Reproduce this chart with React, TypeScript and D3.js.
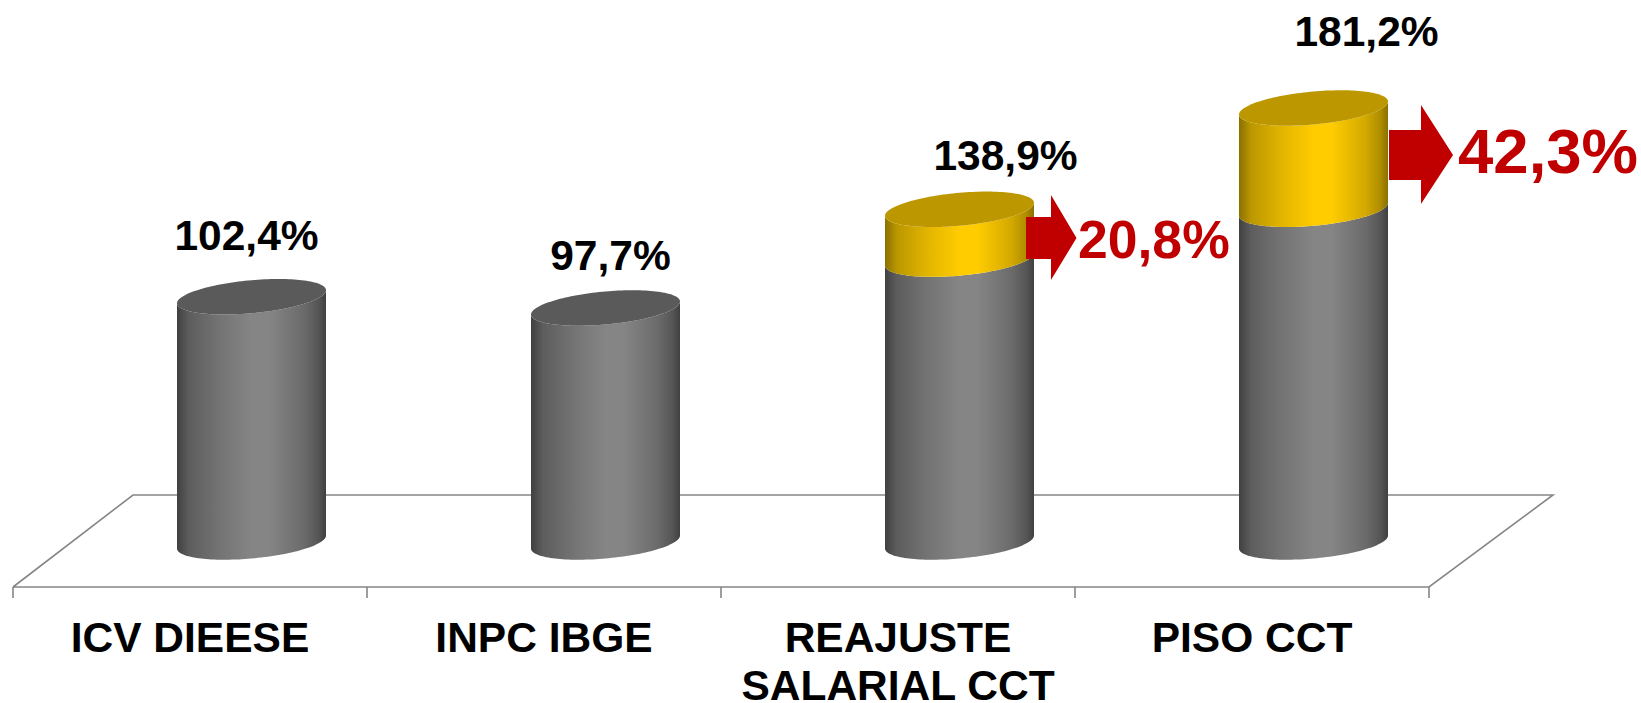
import React from "react";
import * as d3 from "d3";

const categories = ["ICV DIEESE", "INPC IBGE", "REAJUSTE SALARIAL CCT", "PISO CCT"];
const categoryLines = [["ICV DIEESE"], ["INPC IBGE"], ["REAJUSTE", "SALARIAL CCT"], ["PISO CCT"]];
const baseValues = [102.4, 97.7, 118.1, 138.9];
const gainValues = [0, 0, 20.8, 42.3];
const totalLabels = ["102,4%", "97,7%", "138,9%", "181,2%"];
const gainLabels = ["", "", "20,8%", "42,3%"];

const W = 1641, H = 703;
const FONT = "'Liberation Sans', Arial, sans-serif";
const floorLeft = 13, floorRight = 1429, floorFront = 587, floorBack = 495, depth = 120;
const rx = 74.5, ry = 16.5, skew = 6.5;
const x = d3.scaleBand<string>().domain(categories).range([floorLeft, floorRight]);
const y = d3.scaleLinear().domain([0, 181.2]).range([542, 108]);
const arcAngles = d3.range(0, 73).map((i) => (i / 72) * Math.PI);
const fullAngles = d3.range(0, 145).map((i) => (i / 144) * 2 * Math.PI);
const line = d3.line<[number, number]>();
const pt = (cx: number, cy: number, t: number): [number, number] => [
  cx + rx * Math.cos(t),
  cy + ry * Math.sin(t) - skew * Math.cos(t),
];
const side = (cx: number, y0: number, y1: number) => {
  const top = arcAngles.map((t) => pt(cx, y1, Math.PI - t));
  const bot = arcAngles.map((t) => pt(cx, y0, t));
  return line([...top, ...bot]) + "Z";
};
const face = (cx: number, cy: number) => line(fullAngles.map((t) => pt(cx, cy, t))) + "Z";

const labelDx = [-5, 5, 46, 53];
const labelDy = [-47, -37.5, -39, -62.5];
const arrows: Record<number, { x0: number; xb: number; xt: number; s0: number; s1: number; h0: number; h1: number; tx: number; ty: number; fs: number }> = {
  2: { x0: 1026, xb: 1051, xt: 1076.5, s0: 217, s1: 259, h0: 195, h1: 280, tx: 1078, ty: 258, fs: 53.5 },
  3: { x0: 1389, xb: 1421, xt: 1453, s0: 130, s1: 180, h0: 105, h1: 204, tx: 1458, ty: 173, fs: 63.5 },
};

function Stops({ dark, mid }: { dark: string; mid: string }) {
  const mix = d3.interpolateRgb(dark, mid);
  return (
    <>
      <stop offset="0" stopColor={dark} />
      <stop offset="0.08" stopColor={mix(0.42)} />
      <stop offset="0.28" stopColor={mix(0.74)} />
      <stop offset="0.5" stopColor={mid} />
      <stop offset="0.62" stopColor={mid} />
      <stop offset="0.85" stopColor={mix(0.62)} />
      <stop offset="0.95" stopColor={mix(0.3)} />
      <stop offset="1" stopColor={dark} />
    </>
  );
}

export default function App() {
  const cxOf = (c: string) => (x(c) as number) + x.bandwidth() / 2 + depth / 2 + 1.5;
  const ticks = [...categories.map((c) => x(c) as number), floorRight];
  return (
    <svg width={W} height={H} viewBox={`0 0 ${W} ${H}`} style={{ position: "fixed", left: 0, top: 0, background: "#fff" }}>
      <defs>
        <linearGradient id="gray" x1="0" x2="1" y1="0" y2="0">
          <Stops dark="#404040" mid="#858585" />
        </linearGradient>
        <linearGradient id="gold" x1="0" x2="1" y1="0" y2="0">
          <Stops dark="#8a7000" mid="#ffcc00" />
        </linearGradient>
      </defs>
      <path
        d={line([
          [floorLeft, floorFront],
          [floorLeft + depth, floorBack],
          [floorRight + depth + 4, floorBack],
          [floorRight, floorFront],
          [floorLeft, floorFront],
        ]) as string}
        fill="none"
        stroke="#868686"
        strokeWidth={1.6}
      />
      {ticks.map((t) => (
        <line key={t} x1={t} x2={t} y1={floorFront} y2={598} stroke="#868686" strokeWidth={1.6} />
      ))}
      {categories.map((c, i) => {
        const cx = cxOf(c);
        const y0 = y(0), y1 = y(baseValues[i]), y2 = y(baseValues[i] + gainValues[i]);
        const hasGain = gainValues[i] > 0;
        const a = arrows[i];
        return (
          <g key={c}>
            <path d={side(cx, y0, y1)} fill="url(#gray)" />
            {hasGain && <path d={side(cx, y1, y2)} fill="url(#gold)" />}
            <path d={face(cx, y2)} fill={hasGain ? "#bd9700" : "#5a5a5a"} />
            {a && (
              <path
                d={line([
                  [a.x0, a.s0], [a.xb, a.s0], [a.xb, a.h0], [a.xt, (a.s0 + a.s1) / 2],
                  [a.xb, a.h1], [a.xb, a.s1], [a.x0, a.s1],
                ]) + "Z"}
                fill="#c00000"
              />
            )}
            <text x={cx + labelDx[i]} y={y2 + labelDy[i]} textAnchor="middle" fontFamily={FONT} fontWeight="700" fontSize={42.5} fill="#000">
              {totalLabels[i]}
            </text>
            {a && (
              <text x={a.tx} y={a.ty} fontFamily={FONT} fontWeight="700" fontSize={a.fs} fill="#c00000">
                {gainLabels[i]}
              </text>
            )}
            {categoryLines[i].map((l, j) => (
              <text key={l} x={(x(c) as number) + x.bandwidth() / 2} y={652 + j * 47.5} textAnchor="middle" fontFamily={FONT} fontWeight="700" fontSize={42.5} fill="#000">
                {l}
              </text>
            ))}
          </g>
        );
      })}
    </svg>
  );
}
